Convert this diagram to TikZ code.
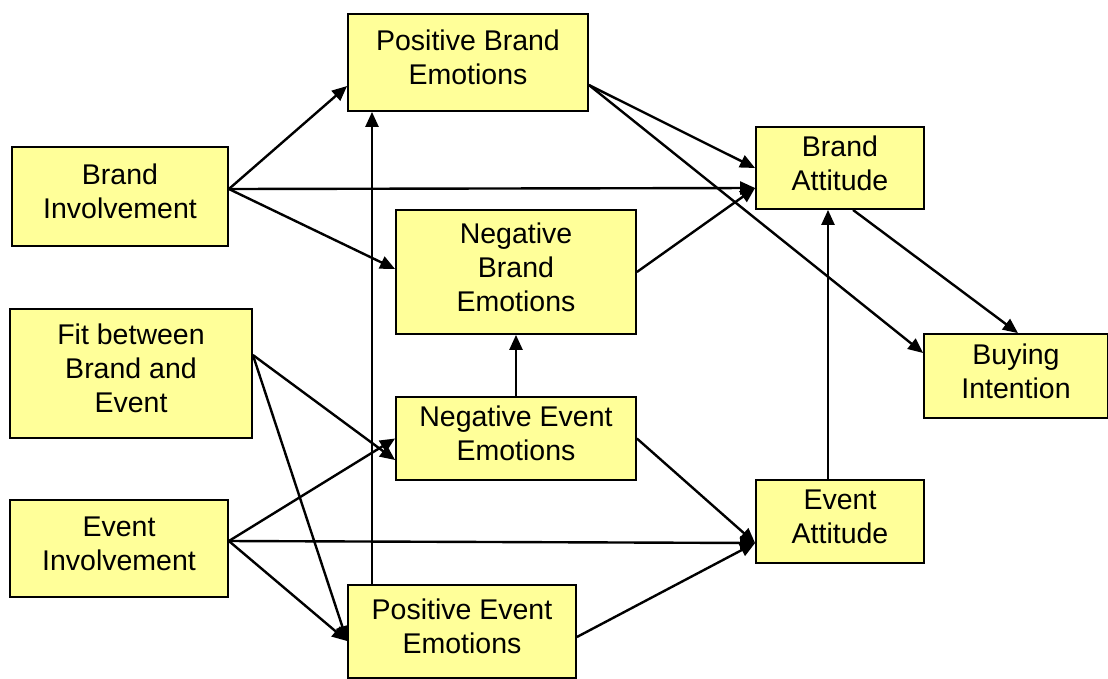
\documentclass[tikz,border=0pt]{standalone}
\usepackage{fontspec}
\setmainfont{Liberation Sans}
\usetikzlibrary{arrows.meta}
\definecolor{boxfill}{HTML}{FFFF99}
\begin{document}
\begin{tikzpicture}[x=1pt,y=-1pt,
  box/.style={draw=black, line width=1.8pt, fill=boxfill, inner sep=0pt,
    align=center, text depth=10pt, font=\fontsize{28.5}{34}\selectfont},
  link/.style={line width=2.4pt, -{Triangle[length=15pt,width=13pt]}}]
\useasboundingbox (0,0) rectangle (1108,678);
% factor boxes (centre, width, height)
\node[box, minimum width=240pt, minimum height=97pt]  (pbe)  at (468,62.5)  {Positive Brand\\Emotions};
\node[box, minimum width=216pt, minimum height=99pt]  (bi)   at (120,196.5) {Brand\\Involvement};
\node[box, minimum width=240pt, minimum height=124pt] (nbe)  at (516,272)   {Negative\\Brand\\Emotions};
\node[box, minimum width=168pt, minimum height=82pt]  (ba)   at (840,168)   {Brand\\Attitude};
\node[box, minimum width=242pt, minimum height=129pt] (fit)  at (131,373.5) {Fit between\\Brand and\\Event};
\node[box, minimum width=240pt, minimum height=83pt]  (nee)  at (516,438.5) {Negative Event\\Emotions};
\node[box, minimum width=184pt, minimum height=84pt]  (buy)  at (1016,376)  {Buying\\Intention};
\node[box, minimum width=218pt, minimum height=97pt]  (ei)   at (119,548.5) {Event\\Involvement};
\node[box, minimum width=168pt, minimum height=83pt]  (ea)   at (840,521.5) {Event\\Attitude};
\node[box, minimum width=228pt, minimum height=93pt]  (pee)  at (462,631.5) {Positive Event\\Emotions};
% connector end points on the box borders
\coordinate (biout)  at ([yshift=7.5pt]bi.east);
\coordinate (fitout) at ([yshift=18.5pt]fit.east);
\coordinate (eiout)  at ([yshift=7.5pt]ei.east);
\coordinate (pbeout) at ([yshift=-22.5pt]pbe.east);
\coordinate (pbein)  at ([yshift=-23.5pt]pbe.west);
\coordinate (bain)   at ([yshift=-20pt]ba.west);
\coordinate (nbein)  at ([yshift=3pt]nbe.west);
\coordinate (neein1) at ([yshift=-21.5pt]nee.west);
\coordinate (peein)  at ([yshift=-9.5pt]pee.west);
\coordinate (eain)   at ([yshift=-21.5pt]ea.west);
\coordinate (peeout) at ([yshift=-5.5pt]pee.east);
\coordinate (peeup)  at ([xshift=-90pt]pee.north);
\coordinate (eaup)   at ([xshift=-12pt]ea.north);
\coordinate (baout)  at ([xshift=13pt]ba.south);
\coordinate (buyin)  at ([xshift=2pt]buy.north);
\coordinate (buyin2) at ([yshift=23pt]buy.west);
% paths
\draw[link] (biout) -- (pbein);
\draw[link] (biout) -- (bain);
\draw[link] (biout) -- (nbein);
\draw[link] (fitout) -- (neein1);
\draw[link] (fitout) -- (peein);
\draw[link] (eiout) -- (nee.west);
\draw[link] (eiout) -- (eain);
\draw[link] (eiout) -- (peein);
\draw[link] (peeup) -- (peeup |- pbe.south);
\draw[link] (nee.north) -- (nbe.south);
\draw[link] (nee.east) -- (eain);
\draw[link] (peeout) -- (eain);
\draw[link] (pbeout) -- (ba.west);
\draw[link] (pbeout) -- (buyin2);
\draw[link] (nbe.east) -- (bain);
\draw[link] (eaup) -- (eaup |- ba.south);
\draw[link] (baout) -- (buyin);
\end{tikzpicture}
\end{document}
